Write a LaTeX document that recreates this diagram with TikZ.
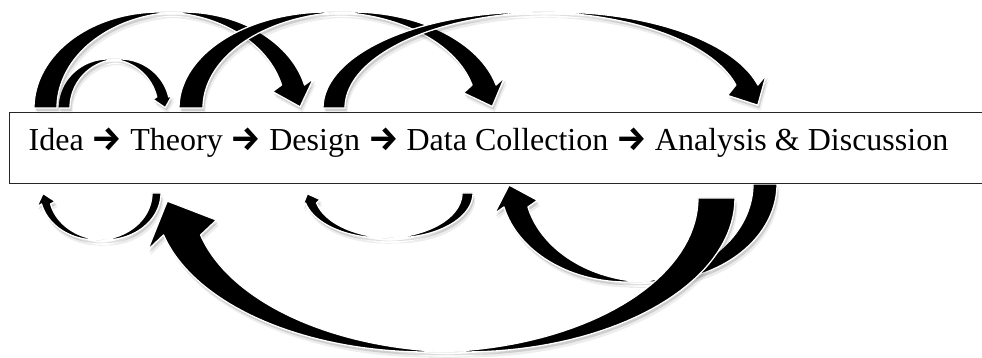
\documentclass[tikz,border=0pt]{standalone}
\usepackage{fontspec}
\setmainfont{Liberation Serif}
\newfontfamily\arrowfont{Fira Sans}
\newcommand\flowarrow{{\arrowfont\bfseries\fontsize{34}{34}\selectfont →}}
\tikzset{
  ribbon/.style={fill=black, draw=white, line width=1.3pt, line join=round},
  rshadowA/.style={fill=black, fill opacity=0.13, shift={(1.5,3)}},
  rshadowB/.style={fill=black, fill opacity=0.07, shift={(2.5,5.5)}},
  boxframe/.style={draw=black!85, line width=1.1pt, inner sep=0pt, minimum width=985pt, minimum height=71pt},
}
% #1 c1, #2 d (signed band width), #3 R, #4 H, #5 base y, #6 head length, #7 head half width, #8 start angle
\newcommand\ribbonsetup[8]{%
  \pgfmathsetmacro\raC{#1}%
  \pgfmathsetmacro\raD{#2}%
  \pgfmathsetmacro\raR{#3}%
  \pgfmathsetmacro\raH{#4}%
  \pgfmathsetmacro\raY{#5}%
  \pgfmathsetmacro\raL{#6}%
  \pgfmathsetmacro\raW{#7}%
  \pgfmathsetmacro\raA{#8}%
  \pgfmathsetmacro\raM{#8+90}%
  \pgfmathsetmacro\raE{#8+180-asin(#6/#4)}%
  \pgfmathsetmacro\raPx{\raC+\raR*cos(\raE)}%
  \pgfmathsetmacro\raPy{\raY+\raH*sin(\raE)}%
  \pgfmathsetmacro\raUx{-\raR*sin(\raE)/100}%
  \pgfmathsetmacro\raUy{\raH*cos(\raE)/100}%
  \pgfmathsetmacro\raN{sqrt(\raUx*\raUx+\raUy*\raUy)}%
  \pgfmathsetmacro\raux{\raUx/\raN}%
  \pgfmathsetmacro\rauy{\raUy/\raN}%
  \pgfmathsetmacro\raMx{\raPx+\raD/2}%
  \pgfmathsetmacro\raTx{\raMx+\raL*\raux}%
  \pgfmathsetmacro\raTy{\raPy+\raL*\rauy}%
  \pgfmathsetmacro\raOx{\raMx+\raW*\rauy}%
  \pgfmathsetmacro\raOy{\raPy-\raW*\raux}%
  \pgfmathsetmacro\raIx{\raMx-\raW*\rauy}%
  \pgfmathsetmacro\raIy{\raPy+\raW*\raux}%
}
\newcommand\ribbonpaint[1]{%
  \path[#1] plot[variable=\t,domain=\raA:\raM,samples=40] ({\raC+\raR*cos(\t)},{\raY+\raH*sin(\t)})
    -- plot[variable=\t,domain=\raM:\raA,samples=40] ({\raC+\raD+\raR*cos(\t)},{\raY+\raH*sin(\t)}) -- cycle;
  \path[#1] plot[variable=\t,domain=\raM:\raE,samples=40] ({\raC+\raD+\raR*cos(\t)},{\raY+\raH*sin(\t)})
    -- (\raOx,\raOy) -- (\raTx,\raTy) -- (\raIx,\raIy) -- (\raPx,\raPy)
    -- plot[variable=\t,domain=\raE:\raM,samples=40] ({\raC+\raR*cos(\t)},{\raY+\raH*sin(\t)}) -- cycle;
}
\newcommand\ribbonarrow[8]{%
  \ribbonsetup{#1}{#2}{#3}{#4}{#5}{#6}{#7}{#8}%
  \ribbonpaint{rshadowB}%
  \ribbonpaint{rshadowA}%
  \ribbonpaint{ribbon}%
}
\begin{document}
\begin{tikzpicture}[x=1pt,y=-1pt]
\useasboundingbox (0,0) rectangle (982,358);
% arrows above the box
\ribbonarrow{108}{12}{50}{49}{108}{11}{10}{180}
\ribbonarrow{159.6}{23}{125.6}{96}{108}{23}{21.5}{180}
\ribbonarrow{327.7}{24}{148.7}{96}{108}{23}{22}{180}
\ribbonarrow{532.5}{22}{209.5}{96}{108}{23}{22}{180}
% arrows below the box
\ribbonarrow{105}{-9}{56}{47}{193}{11}{9.5}{0}
\ribbonarrow{393.8}{-11}{79.2}{45}{193}{10}{9.5}{0}
\ribbonarrow{650.7}{-24}{126.3}{98}{184}{23}{22.5}{0}
\ribbonarrow{463.8}{-37}{271.2}{154}{198}{37}{37.5}{0}
% box and text
\node[boxframe, anchor=north west] (box) at (9,112.3) {};
\node[anchor=base west, inner sep=0pt, font=\fontsize{32}{38}\selectfont] (flow) at (28.5,151)
  {Idea \flowarrow{} Theory \flowarrow{} Design \flowarrow{} Data Collection \flowarrow{} Analysis \& Discussion};
\end{tikzpicture}
\end{document}
